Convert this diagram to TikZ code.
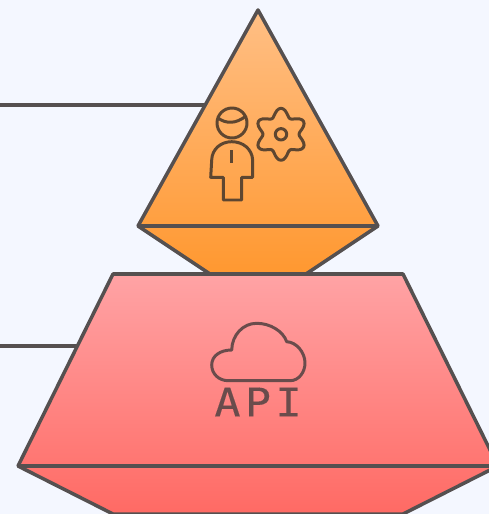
\documentclass[tikz,border=0pt]{standalone}
\usepackage{fontspec}
\usepackage{xcolor}
\newfontfamily\apifont[FakeStretch=1.1,FakeBold=0.2,LetterSpace=11]{DejaVu Sans Mono}
\definecolor{pagebg}{HTML}{F4F7FF}
\definecolor{edgegray}{HTML}{555050}
\definecolor{iconbrown}{HTML}{5E4630}
\definecolor{icongray}{HTML}{6A4C4C}
\definecolor{orangetop}{HTML}{FFBF85}
\definecolor{orangebot}{HTML}{FF9830}
\definecolor{redtop}{HTML}{FFA3A5}
\definecolor{redbot}{HTML}{FF6A64}
\begin{document}
\begin{tikzpicture}[
		x=0.02cm, y=-0.02cm,
		solidedge/.style={
				draw=edgegray, line width=2pt,
				line join=round
			},
		orangesolid/.style={
				solidedge,
				top color=orangetop,
				bottom color=orangebot
			},
		redsolid/.style={
				solidedge,
				top color=redtop,
				bottom color=redbot
			},
		stubline/.style={draw=edgegray, line width=2pt},
		iconline/.style={draw=iconbrown, line width=1.7pt, line join=round},
		cloudline/.style={draw=icongray, line width=1.7pt, line join=round},
		apilabel/.style={
				inner sep=0pt,
				text=icongray,
				font=\apifont\fontsize{22.5}{24}\selectfont
			}
	]
	\useasboundingbox (0,0) rectangle (489,514);
	\clip (0,0) rectangle (489,514);
	\fill[pagebg] (0,0) rectangle (489,514);

	% stubs
	\coordinate (topstub) at (0,105);
	\coordinate (topedge) at (205,105);
	\coordinate (lowstub) at (0,346);
	\coordinate (lowedge) at (78,346);
	\draw[stubline] (topstub) -- (topedge);
	\draw[stubline] (lowstub) -- (lowedge);

	% upper solid
	\path[orangesolid] (258,10) -- (378,226) -- (306,274) -- (210,274) -- (138,226) -- cycle;
	\draw[solidedge] (138,226) -- (378,226);

	% lower solid
	\path[redsolid] (113,274) -- (403,274) -- (498,466) -- (403,514) -- (113,514) -- (18,466) -- cycle;
	\draw[solidedge] (18,466) -- (498,466);

	% person
	\draw[iconline] (232,123) circle (15);
	\draw[iconline] (218,118) .. controls (226,124) and (236,124) .. (246,116);
	\draw[iconline] (210.7,177.3) -- (211.7,160) .. controls (212,149) and (221,141.7) .. (231.7,141.7)
	.. controls (243,141.7) and (252,149) .. (252.7,160) -- (252.7,177.3) -- (241.7,177.3)
	-- (241.7,200) -- (223.3,200) -- (223.3,177.3) -- cycle;
	\draw[iconline] (231.7,150) -- (231.7,163.3);

	% gear
	\draw[iconline] plot[smooth cycle, domain=0:355, samples=72]
	({281+(22+4*cos(6*(\x-90)))*cos(\x)}, {134.3+(22+4*cos(6*(\x-90)))*sin(\x)});
	\draw[iconline] (281,134.3) circle (5.7);

	% cloud
	\draw[cloudline] (228.3,380.7) -- (290,380.7) .. controls (299,380.7) and (305,372) .. (305,363)
	.. controls (305,352) and (296,342) .. (286.7,341.7) .. controls (283,331) and (270,323.3) .. (256.7,323.3)
	.. controls (243,323.3) and (232,335) .. (231.7,350) .. controls (220,350) and (211.7,356) .. (211.7,365)
	.. controls (211.7,374) and (219,380.7) .. (228.3,380.7) -- cycle;
	\node[apilabel] (apitext) at (258,402) {API};
\end{tikzpicture}
\end{document}
